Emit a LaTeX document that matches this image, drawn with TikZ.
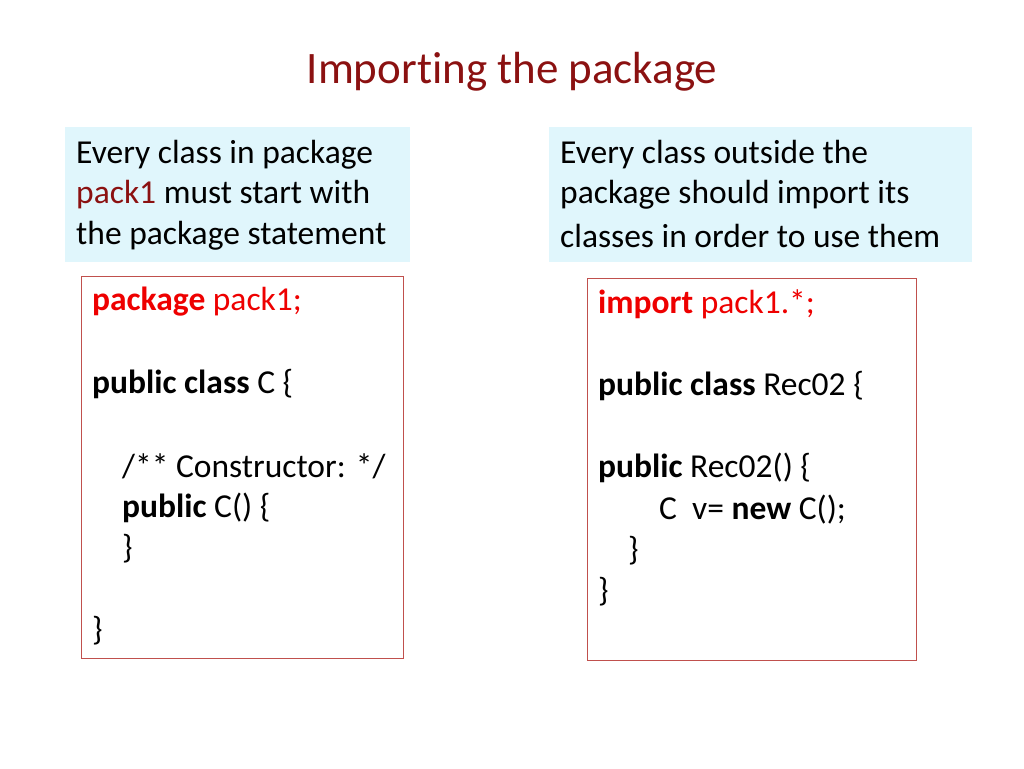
\documentclass[tikz,border=0pt]{standalone}
\usepackage{fontspec}
\setmainfont{Carlito}[Ligatures={NoCommon,NoRare}]
\definecolor{ttl}{HTML}{8B1111}
\definecolor{kw}{HTML}{EE0000}
\definecolor{bluebg}{HTML}{E0F6FC}
\definecolor{bord}{HTML}{C0504D}
\begin{document}
\begin{tikzpicture}[x=1pt,y=-1pt,
  txt/.style={anchor=west,inner sep=0pt,font=\fontsize{33.5}{41}\selectfont},
  code/.style={draw=bord,line width=0.8pt}]
\useasboundingbox (0,0) rectangle (1024,768);
\node[font=\fontsize{45}{50}\selectfont,text=ttl] (title) at (512,72) {Importing the package};
\fill[bluebg] (65,127) rectangle (410,262);
\fill[bluebg] (549,127) rectangle (972,262);
\node[txt] (l1) at (76,155) {Every class in package};
\node[txt] (l2) at (76,195) {\textcolor{ttl}{pack1} must start with};
\node[txt] (l3) at (76,236) {the package statement};
\node[txt] (r1) at (560,155) {Every class outside the};
\node[txt] (r2) at (560,195) {package should import its};
\node[txt] (r3) at (560,236) {classes in order to use them};
\draw[code] (81,276) rectangle (403,658);
\draw[code] (587,278) rectangle (916,660);
\node[txt] (a1) at (92,302) {\textcolor{kw}{\textbf{package} pack1;}};
\node[txt] (a2) at (92,384) {\textbf{public class} C \{};
\node[txt] (a3) at (122,466) {/** Constructor: */};
\node[txt] (a4) at (122,508) {\textbf{public} C() \{};
\node[txt] (a5) at (122,549) {\}};
\node[txt] (a6) at (92,631) {\}};
\node[txt] (b1) at (598,304) {\textcolor{kw}{\textbf{import} pack1.*;}};
\node[txt] (b2) at (598,386) {\textbf{public class} Rec02 \{};
\node[txt] (b3) at (598,468) {\textbf{public} Rec02() \{};
\node[txt] (b4) at (659,510) {C\ \ v= \textbf{new} C();};
\node[txt] (b5) at (628,551) {\}};
\node[txt] (b6) at (598,592) {\}};
\end{tikzpicture}
\end{document}
